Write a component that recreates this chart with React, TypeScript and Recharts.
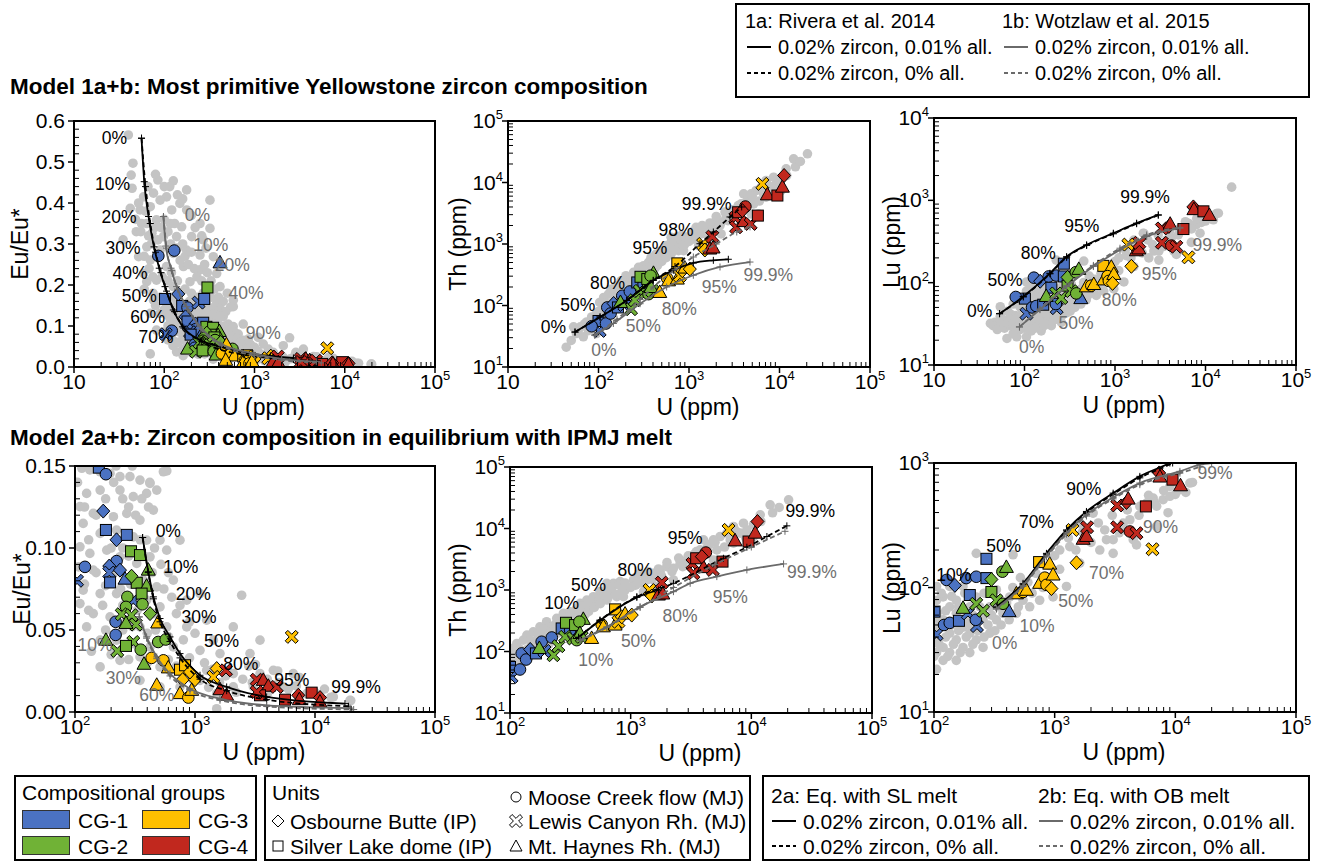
import React from "react";
import { ScatterChart, Scatter, XAxis, YAxis } from "recharts";

type Mk = "d" | "s" | "c" | "x" | "t";
type Pt = [number, number];
type CPt = [number, number, Mk];
type Lab = [number, number, string];

// ---- background (all Yellowstone zircon) : [U ppm, value]
const grayEu: Pt[] = [
  [40, 0.566], [45, 0.497], [43, 0.468], [85, 0.456], [126, 0.454], [44, 0.436], [59, 0.415], [76, 0.424], [106, 0.415], [149, 0.399],
  [42, 0.387], [54, 0.383], [70, 0.391], [90, 0.407], [121, 0.383], [177, 0.383], [64, 0.35], [82, 0.359], [116, 0.35], [156, 0.342],
  [249, 0.35], [321, 0.338], [49, 0.33], [73, 0.326], [98, 0.318], [137, 0.318], [201, 0.318], [271, 0.31], [64, 0.293], [90, 0.285],
  [126, 0.277], [177, 0.285], [249, 0.273], [350, 0.269], [70, 0.261], [106, 0.245], [163, 0.245], [249, 0.237], [381, 0.228], [82, 0.212],
  [126, 0.196], [193, 0.208], [295, 0.196], [415, 0.196], [106, 0.163], [163, 0.147], [249, 0.163], [381, 0.155], [582, 0.147], [35, 0.31],
  [52, 0.269], [64, 0.208], [321, 0.407], [177, 0.432], [70, 0.032], [90, 0.131], [137, 0.037], [76, 0.163], [59, 0.228], [582, 0.163],
  [70, 0.131], [82, 0.09], [3190, 0.029], [4890, 0.025], [7470, 0.021], [13550, 0.009], [19860, 0.007],
  [48, 0.36], [52, 0.4], [56, 0.35], [62, 0.38], [67, 0.32], [72, 0.3], [78, 0.34], [85, 0.31], [92, 0.34], [100, 0.36],
  [110, 0.33], [118, 0.3], [130, 0.35], [140, 0.29], [150, 0.26], [160, 0.3], [170, 0.27], [185, 0.25], [200, 0.28], [215, 0.24],
  [230, 0.22], [260, 0.21], [280, 0.25], [300, 0.23], [330, 0.21], [360, 0.19], [400, 0.17], [450, 0.16], [500, 0.18], [60, 0.27],
  [68, 0.24], [75, 0.22], [95, 0.22], [110, 0.21], [120, 0.23], [140, 0.21], [170, 0.19], [200, 0.18], [230, 0.17], [270, 0.18],
  [330, 0.17], [60, 0.19], [75, 0.18], [90, 0.17], [120, 0.17], [140, 0.16], [190, 0.16], [220, 0.15], [300, 0.15], [420, 0.14],
  [80, 0.15], [100, 0.14], [55, 0.33], [66, 0.44], [80, 0.47], [100, 0.44], [115, 0.44], [140, 0.42], [160, 0.41], [200, 0.37],
  [220, 0.34], [260, 0.32], [290, 0.29],
  [114, 0.1486], [133, 0.1476], [162, 0.1465], [196, 0.1455], [237, 0.1435], [287, 0.1435], [348, 0.1414], [422, 0.1394], [545, 0.1465], [480, 0.1353],
  [395, 0.1333], [306, 0.1313], [237, 0.1353], [162, 0.1353], [125, 0.1333], [110, 0.1252], [142, 0.1211], [209, 0.1191], [270, 0.1211], [348, 0.117],
  [450, 0.1231], [117, 0.115], [162, 0.1089], [222, 0.1109], [306, 0.1068], [395, 0.1048], [511, 0.1048], [110, 0.1007], [133, 0.0967], [184, 0.0987],
  [237, 0.0946], [327, 0.0906], [422, 0.0946], [581, 0.0987], [750, 0.1048], [107, 0.0885], [142, 0.0865], [209, 0.0845], [270, 0.0804], [371, 0.0804],
  [480, 0.0763], [660, 0.0804], [117, 0.0743], [162, 0.0722], [222, 0.0722], [306, 0.0682], [395, 0.0682], [511, 0.0641], [853, 0.0682], [1101, 0.0722],
  [110, 0.0661], [142, 0.06], [196, 0.058], [270, 0.056], [348, 0.0519], [581, 0.0519], [853, 0.0519], [1251, 0.056], [125, 0.0519], [162, 0.0438],
  [222, 0.0438], [306, 0.0417], [422, 0.0397], [660, 0.0397], [1101, 0.0376], [1616, 0.0356], [162, 0.0275], [237, 0.0315], [348, 0.0336], [511, 0.0275],
  [853, 0.0275], [1251, 0.0254], [2085, 0.0234], [3481, 0.0234], [4498, 0.0254], [6590, 0.0234], [348, 0.0193], [511, 0.0153], [750, 0.0153], [1101, 0.0193],
  [1517, 0.0112], [2085, 0.0153], [3063, 0.0153], [5445, 0.0153], [8527, 0.0112], [14220, 0.0092], [19580, 0.0071], [1517, 0.002], [2448, 0.0712], [2085, 0.0519],
  [3481, 0.0438], [2872, 0.0356], [1422, 0.0438],
  [105, 0.14], [120, 0.125], [150, 0.12], [180, 0.13], [210, 0.14], [250, 0.13], [280, 0.125], [320, 0.12], [360, 0.13], [410, 0.125],
  [130, 0.105], [170, 0.11], [200, 0.1], [250, 0.1], [280, 0.095], [350, 0.105], [380, 0.095], [460, 0.1], [520, 0.09], [600, 0.085],
  [120, 0.078], [150, 0.085], [180, 0.077], [240, 0.075], [290, 0.078], [440, 0.085], [550, 0.075], [640, 0.07], [750, 0.065], [130, 0.062],
  [170, 0.065], [250, 0.065], [330, 0.062], [450, 0.06], [700, 0.06], [900, 0.055], [1000, 0.048], [180, 0.05], [250, 0.05], [300, 0.052],
  [400, 0.048], [470, 0.05], [600, 0.046], [800, 0.044], [200, 0.035], [280, 0.032], [400, 0.03], [600, 0.032], [700, 0.028], [900, 0.033],
  [1200, 0.03], [1400, 0.026], [1800, 0.022], [2500, 0.02], [3000, 0.018], [4000, 0.02], [5000, 0.018], [6000, 0.014], [7000, 0.016], [10000, 0.012],
  [12000, 0.014], [2800, 0.028], [1600, 0.018], [950, 0.02], [1300, 0.015], [2200, 0.012], [4000, 0.011],
];

const grayTh: Pt[] = [
  [44, 21], [50, 27], [57, 35], [63, 45], [74, 54], [84, 65], [77, 39], [95, 35], [95, 74], [68, 31], [53, 45],
  [103, 112], [114, 135], [110, 82], [129, 153], [138, 185], [121, 93], [147, 153], [156, 209], [177, 252], [166, 153],
  [201, 305], [215, 252], [189, 197], [244, 345], [277, 417], [260, 324], [315, 444], [357, 503], [381, 607], [433, 687],
  [491, 778], [557, 940], [634, 1064], [720, 1285], [817, 1370], [524, 607], [634, 687], [767, 778], [929, 1133], [1054, 1456],
  [1197, 1870], [1361, 1456], [1545, 1870], [1754, 1990], [1991, 2400], [2263, 2250], [2570, 2720], [2918, 3080], [3318, 3720], [3767, 4490],
  [4276, 4780], [4853, 6530], [5518, 7410], [6266, 8400], [5176, 4490], [5875, 3080], [7112, 5770], [8091, 8400], [9183, 9500], [10420, 11500],
  [11850, 16700], [14320, 24300], [20370, 29300], [871, 778], [1644, 1133], [2263, 1456], [1276, 940], [4853, 3080], [6683, 6530], [4018, 6530],
  [8610, 12200], [10420, 7410], [7112, 10800], [215, 153], [277, 197], [634, 1285],
  [120, 70], [140, 110], [160, 130], [180, 170], [200, 220], [230, 260], [260, 280], [300, 330], [350, 400], [400, 470], [450, 540],
  [600, 800], [700, 900], [900, 1000], [1100, 1200],
  [60, 40], [70, 50], [80, 45], [90, 60], [100, 80], [100, 55], [110, 65], [120, 110], [130, 90], [140, 75], [150, 120], [160, 100],
  [170, 190], [180, 140], [190, 230], [200, 170], [210, 130], [220, 210], [240, 280], [250, 200], [270, 250], [290, 330], [300, 230],
  [320, 380], [330, 290], [350, 300], [370, 480], [380, 360], [400, 550], [420, 400], [450, 450], [480, 650], [500, 520], [550, 700],
  [560, 600], [600, 900], [650, 750], [700, 1100], [750, 850], [800, 1200], [850, 950], [900, 1300], [1000, 1100], [1100, 1600],
  [1200, 1300], [1300, 1700], [1400, 2000], [1500, 1500], [1700, 2200], [1800, 1700], [2000, 2800], [2200, 2000], [2500, 3300],
  [2700, 2400], [3000, 3600], [3500, 4200], [4000, 3600], [4500, 5500], [5000, 6000], [6000, 5000], [7500, 9000], [9000, 7000],
  [12000, 13000], [15000, 18000], [17000, 22000],
];

const grayLu: Pt[] = [
  [42, 32], [47, 33], [54, 39], [58, 29], [64, 21], [69, 42], [75, 24], [82, 22], [89, 27], [89, 51], [54, 51], [106, 62],
  [60, 35], [70, 30], [80, 40], [90, 35], [95, 45], [75, 55], [85, 60], [65, 45],
  [105, 102], [105, 79], [105, 62], [105, 48], [105, 38], [105, 30], [105, 22], [119, 84], [119, 55], [119, 33], [119, 26],
  [135, 102], [135, 70], [135, 43], [135, 30], [153, 79], [153, 62], [153, 38], [153, 26], [174, 102], [174, 48], [174, 33],
  [198, 70], [198, 43], [198, 30], [224, 84], [224, 38], [255, 55], [255, 33], [290, 70], [290, 43], [329, 96], [329, 55],
  [373, 62], [424, 84], [482, 62], [547, 79], [621, 70], [751, 79], [970, 84], [1253, 102], [1615, 157], [224, 188], [452, 183],
  [1102, 200], [1334, 213], [2084, 396], [1615, 329], [2366, 200], [2687, 242], [3053, 188], [3697, 329], [4198, 350], [4477, 242],
  [5080, 448], [5770, 477], [6550, 523], [7925, 507], [9010, 540], [10910, 610], [13190, 690], [6980, 309], [4767, 220], [3053, 242],
  [19450, 1445], [13870, 698], [8700, 399], [2056, 399], [3420, 275], [6740, 481], [12220, 580],
  [45, 30], [50, 27], [55, 34], [60, 28], [65, 32], [70, 36], [75, 32], [80, 28], [85, 38], [90, 31], [95, 36], [100, 28],
  [100, 42], [110, 35], [110, 55], [115, 90], [125, 40], [125, 65], [130, 28], [140, 50], [140, 85], [145, 35], [160, 45],
  [160, 70], [165, 30], [180, 55], [180, 90], [185, 40], [200, 50], [210, 60], [210, 35], [230, 45], [240, 70], [260, 40],
  [260, 90], [280, 50], [300, 60], [320, 45], [340, 70], [360, 50], [400, 75], [420, 55], [450, 100], [500, 70], [520, 120],
  [600, 110], [650, 90], [700, 130], [800, 100], [900, 150], [1000, 180], [1100, 140], [1300, 250], [1500, 200], [1700, 280],
  [2000, 230], [2300, 330], [2600, 290], [3000, 380], [3500, 300], [4000, 420], [5000, 380], [6000, 550], [7000, 450], [8000, 600],
  [9000, 650], [10000, 560],
];

// ---- compositional groups: [U ppm, value, unit marker]
const euCG1: CPt[] = [
  [158, 0.149, "s"], [181, 0.145, "c"], [172, 0.1225, "d"], [181, 0.111, "s"], [222, 0.105, "d"], [270, 0.108, "s"], [121, 0.0885, "c"],
  [222, 0.092, "c"], [193, 0.089, "d"], [193, 0.085, "x"], [237, 0.0865, "d"], [196, 0.079, "s"], [261, 0.081, "t"], [104, 0.08, "x"],
  [306, 0.068, "x"], [218, 0.055, "c"], [218, 0.047, "c"], [86, 0.271, "c"], [129, 0.284, "c"], [415, 0.254, "t"], [102, 0.166, "s"],
  [143, 0.178, "d"], [240, 0.157, "x"], [277, 0.166, "s"],
];
const euCG2: CPt[] = [
  [293, 0.098, "s"], [348, 0.0957, "s"], [408, 0.0865, "t"], [327, 0.0788, "s"], [395, 0.0767, "t"], [296, 0.0828, "d"], [359, 0.0722, "s"],
  [273, 0.0702, "c"], [266, 0.0641, "c"], [365, 0.0657, "c"], [422, 0.06, "d"], [245, 0.0596, "x"], [296, 0.059, "x"], [322, 0.0533, "x"],
  [266, 0.054, "t"], [494, 0.0427, "c"], [570, 0.0442, "c"], [306, 0.0427, "x"], [181, 0.0437, "t"], [225, 0.0372, "x"], [266, 0.0403, "s"],
  [353, 0.038, "c"], [376, 0.0291, "t"], [301, 0.194, "s"],
];
const euCG3: CPt[] = [
  [489, 0.0543, "t"], [435, 0.033, "c"], [545, 0.0315, "c"], [599, 0.0269, "t"], [750, 0.0258, "s"], [826, 0.0285, "s"], [789, 0.0197, "d"],
  [1000, 0.0197, "d"], [908, 0.0244, "d"], [1517, 0.0265, "d"], [1422, 0.0214, "x"], [480, 0.0163, "t"], [750, 0.0112, "t"], [880, 0.0088, "c"],
  [938, 0.0132, "t"], [6400, 0.0458, "x"],
];
const euCG4: CPt[] = [
  [1811, 0.0254, "x"], [1616, 0.0136, "t"], [1836, 0.0102, "t"], [3266, 0.0197, "x"], [3707, 0.0193, "t"], [4083, 0.0157, "t"], [4800, 0.0153, "x"],
  [3481, 0.0102, "s"], [3266, 0.0122, "x"], [5623, 0.0075, "s"], [9380, 0.0118, "s"], [7260, 0.0102, "d"], [7400, 0.0075, "t"], [11010, 0.0088, "d"],
  [11010, 0.0061, "t"],
];

const thCG1: CPt[] = [
  [100, 56, "s"], [103, 38.6, "x"], [121, 51, "c"], [125, 93, "c"], [136, 74, "c"], [147, 108, "d"], [164, 93, "s"], [193, 102, "x"],
  [183, 144, "c"], [222, 169, "c"], [268, 237, "s"], [315, 223, "c"], [84, 46, "c"],
];
const thCG2: CPt[] = [
  [291, 293, "s"], [346, 269, "s"], [405, 333, "t"], [376, 305, "c"], [229, 87, "x"], [252, 122, "x"], [286, 173, "x"], [175, 112, "t"],
  [335, 163, "x"], [357, 153, "c"], [393, 173, "x"], [380, 196, "t"],
];
const thCG3: CPt[] = [
  [743, 484, "s"], [575, 275, "c"], [594, 252, "t"], [743, 269, "t"], [792, 305, "x"], [844, 367, "d"], [899, 406, "t"], [1021, 391, "d"],
  [475, 163, "t"], [1432, 1000, "x"], [1497, 798, "d"], [6470, 9500, "x"],
];
const thCG4: CPt[] = [
  [1698, 828, "t"], [1845, 861, "t"], [1812, 1318, "x"], [3250, 2655, "x"], [3313, 1870, "x"], [3490, 3280, "s"], [4018, 2312, "t"],
  [4200, 4065, "c"], [3890, 3490, "d"], [4800, 2120, "x"], [5770, 2896, "s"], [7340, 6290, "t"], [9480, 6140, "s"], [10760, 8400, "t"],
  [11240, 13000, "d"],
];

const luCG1: CPt[] = [
  [101, 64, "s"], [105, 42, "x"], [121, 50, "c"], [135, 52, "c"], [161, 54, "s"], [191, 62, "x"], [227, 49, "x"], [222, 55, "c"],
  [198, 87, "s"], [127, 115, "c"], [149, 104, "d"], [185, 119, "c"], [224, 122, "c"], [272, 119, "s"], [272, 170, "s"], [419, 64, "t"],
  [80, 67, "c"],
];
const luCG2: CPt[] = [
  [174, 68, "t"], [224, 74, "x"], [255, 65, "x"], [299, 92, "s"], [299, 116, "d"], [369, 134, "c"], [398, 145, "t"], [329, 79, "x"], [373, 74, "c"],
];
const luCG3: CPt[] = [
  [482, 89, "t"], [547, 92, "c"], [583, 95, "t"], [743, 160, "s"], [910, 154, "t"], [751, 108, "t"], [828, 120, "c"], [855, 105, "c"],
  [970, 126, "t"], [940, 98, "d"], [1517, 158, "d"], [1403, 290, "x"], [6470, 203, "x"],
];
const luCG4: CPt[] = [
  [1722, 244, "t"], [1834, 257, "t"], [1857, 305, "x"], [3296, 305, "x"], [4198, 282, "c"], [4767, 273, "x"], [3296, 456, "x"],
  [3937, 482, "d"], [4068, 513, "t"], [5700, 448, "s"], [7345, 832, "d"], [7450, 771, "t"], [9480, 735, "s"], [11040, 656, "t"],
];

// ---- model 1a (Rivera et al. 2014) / 1b (Wotzlaw et al. 2015)
const m1aEu: Pt[] = [[56, 0.558], [60, 0.452], [67, 0.367], [77, 0.293], [88, 0.241], [102, 0.196], [126, 0.139], [160, 0.098], [249, 0.066], [420, 0.05], [751, 0.035], [1500, 0.027], [2700, 0.022]];
const m1aEuDash: Pt[] = [[56, 0.558], [62, 0.44], [70, 0.35], [80, 0.28], [92, 0.23], [106, 0.185], [130, 0.135], [165, 0.095], [260, 0.062], [760, 0.03], [2700, 0.018], [5000, 0.015]];
const m1bEu: Pt[] = [[98, 0.367], [104, 0.295], [119, 0.241], [137, 0.196], [177, 0.147], [249, 0.098], [415, 0.058], [970, 0.033], [2000, 0.02], [4890, 0.013]];
const m1bEuDash: Pt[] = [[98, 0.367], [106, 0.29], [121, 0.235], [140, 0.19], [182, 0.14], [255, 0.092], [430, 0.053], [1000, 0.028], [2000, 0.017], [5500, 0.01]];
const lab1aEu: Lab[] = [[28, 0.558, "0%"], [26.8, 0.446, "10%"], [31.5, 0.367, "20%"], [35, 0.291, "30%"], [41.7, 0.23, "40%"], [53, 0.173, "50%"], [65.5, 0.121, "60%"], [81, 0.072, "70%"]];
const lab1bEu: Lab[] = [[233, 0.371, "0%"], [327, 0.298, "10%"], [568, 0.249, "20%"], [805, 0.181, "40%"], [1254, 0.084, "90%"]];

const m1aTh: Pt[] = [[55, 37], [104, 65], [205, 121], [403, 256], [671, 373], [1117, 491], [1858, 542], [2720, 564]];
const m1aThDash: Pt[] = [[55, 37], [104, 65], [205, 121], [403, 256], [700, 430], [1321, 1011], [1858, 1567], [2838, 2750], [3820, 4000]];
const m1bTh: Pt[] = [[91, 33], [146, 51], [288, 107], [566, 200], [1117, 310], [2200, 423], [4720, 509]];
const m1bThDash: Pt[] = [[91, 33], [160, 60], [288, 125], [403, 200], [700, 380], [1117, 615], [2000, 1000], [3370, 1567], [4720, 1900]];
const lab1aTh: Lab[] = [[31.7, 45, "0%"], [59, 101, "50%"], [126, 232, "80%"], [370, 870, "95%"], [720, 1720, "98%"], [1567, 4420, "99.9%"]];
const lab1bTh: Lab[] = [[115, 18.7, "0%"], [313, 46, "50%"], [781, 89, "80%"], [2163, 200, "95%"], [7530, 310, "99.9%"]];

const m1aLu: Pt[] = [[53, 42], [97, 68], [191, 130], [292, 207], [486, 288], [959, 399], [1733, 528], [3010, 667]];
const m1aLuDash: Pt[] = [[53, 42], [97, 67], [191, 128], [292, 203], [486, 283], [959, 392], [1733, 520], [3010, 660]];
const m1bLu: Pt[] = [[88, 29], [148, 47], [292, 90], [577, 157], [1135, 250], [2238, 364], [5220, 459]];
const m1bLuDash: Pt[] = [[88, 29], [148, 48], [292, 92], [577, 162], [1135, 262], [2238, 380], [5220, 470]];
const lab1aLu: Lab[] = [[32, 45, "0%"], [61, 108, "50%"], [142, 228, "80%"], [429, 490, "95%"], [2149, 1094, "99.9%"]];
const lab1bLu: Lab[] = [[120, 16.7, "0%"], [371, 32, "50%"], [1117, 62, "80%"], [3090, 127, "95%"], [13500, 283, "99.9%"]];

// ---- model 2a (SL melt) / 2b (OB melt)
const m2aEu: Pt[] = [[366, 0.1064], [408, 0.0855], [450, 0.0702], [511, 0.057], [619, 0.0458], [750, 0.0356], [1101, 0.0224], [1836, 0.0153], [3954, 0.0092], [17780, 0.0051]];
const m2aEuDash: Pt[] = [[366, 0.1064], [408, 0.085], [450, 0.069], [511, 0.055], [619, 0.043], [750, 0.033], [1101, 0.02], [1836, 0.013], [3954, 0.0075], [19000, 0.0035]];
const m2bEu: Pt[] = [[343, 0.058], [395, 0.0458], [480, 0.0336], [619, 0.0234], [908, 0.0142], [1616, 0.0081], [3954, 0.0041], [19580, 0.0024]];
const m2bEuDash: Pt[] = [[343, 0.058], [395, 0.045], [480, 0.0325], [619, 0.022], [908, 0.013], [1616, 0.0072], [3954, 0.0034], [21000, 0.0015]];
const lab2aEu: Lab[] = [[599, 0.1105, "0%"], [760, 0.0885, "10%"], [968, 0.0722, "20%"], [1079, 0.058, "30%"], [1667, 0.0431, "50%"], [2404, 0.0295, "80%"], [6400, 0.0197, "95%"], [21980, 0.0153, "99.9%"]];
const lab2bEu: Lab[] = [[147, 0.0407, "10%"], [253, 0.0208, "30%"], [480, 0.0102, "60%"]];

const m2aTh: Pt[] = [[370, 170], [557, 320], [1125, 760], [1700, 1000]];
const m2aThDash: Pt[] = [[370, 170], [557, 324], [1125, 778], [2263, 1285], [5875, 3280], [9183, 4965], [13460, 7410], [19700, 11040]];
const m2bTh: Pt[] = [[381, 153], [634, 252], [1197, 535], [2263, 940], [3112, 1285], [5176, 1650], [9183, 2120], [18500, 2655]];
const m2bThDash: Pt[] = [[381, 150], [634, 245], [1197, 520], [2263, 1100], [5000, 2600], [10000, 5000], [19000, 9000]];
const lab2aTh: Lab[] = [[268, 607, "10%"], [447, 1208, "50%"], [1089, 2118, "80%"], [2830, 6950, "95%"], [30760, 18900, "99.9%"]];
const lab2bTh: Lab[] = [[514, 72, "10%"], [1159, 147, "50%"], [2570, 382, "80%"], [6683, 778, "95%"], [31770, 1991, "99.9%"]];

const m2aLu: Pt[] = [[329, 70], [547, 108], [855, 188], [1253, 290], [1834, 408], [3053, 573], [5080, 781], [9010, 1000], [10500, 1080]];
const m2aLuDash: Pt[] = [[329, 69], [547, 106], [855, 185], [1253, 285], [1834, 400], [3053, 560], [5080, 760], [9500, 1000], [11000, 1080]];
const m2bLu: Pt[] = [[329, 68], [547, 104], [855, 180], [1253, 275], [1834, 385], [3053, 530], [5080, 690], [10910, 857], [16000, 970], [20000, 1000]];
const m2bLuDash: Pt[] = [[329, 67], [547, 102], [855, 176], [1253, 268], [1834, 375], [3053, 515], [5080, 670], [10910, 830], [16000, 930]];
const lab2aLu: Lab[] = [[146, 126, "10%"], [378, 216, "50%"], [706, 333, "70%"], [1742, 618, "90%"]];
const lab2bLu: Lab[] = [[385, 36, "0%"], [714, 49, "10%"], [1496, 78, "50%"], [2687, 131, "70%"], [7540, 309, "90%"], [21300, 830, "99%"]];

// ---- styling
const FONT = "'Liberation Sans', Arial, sans-serif";
const CG_COLORS = ["#4B72C2", "#70B236", "#FFC000", "#C1281E"];
const GRAY_DOT = "#C4C4C4";
const MODEL_GRAY = "#6A6A6A";
const LABEL_GRAY = "#707070";

const toXY = (a: Pt[]) => a.map(([x, y]) => ({ x, y }));
const toMk = (a: CPt[]) => a.map(([x, y, m]) => ({ x, y, m }));
const toLab = (a: Lab[]) => a.map(([x, y, t]) => ({ x, y, t }));

const isPow10 = (v: number) => Math.abs(Math.log10(v) - Math.round(Math.log10(v))) < 1e-6;
function logTicks(lo: number, hi: number) {
  const t: number[] = [];
  for (let e = lo; e < hi; e++) for (let k = 1; k < 10; k++) t.push(k * Math.pow(10, e));
  t.push(Math.pow(10, hi));
  return t;
}
function linTicks(max: number, step: number) {
  const n = Math.round(max / step);
  return Array.from({ length: n + 1 }, (_, i) => +(i * step).toFixed(4));
}

function Marker(props: any) {
  const { cx, cy, payload, color } = props;
  if (cx == null || cy == null) return null;
  const st = { fill: color, stroke: "#000", strokeWidth: 1 };
  const m = payload.m;
  if (m === "s") return <rect x={cx - 5.5} y={cy - 5.5} width={11} height={11} {...st} />;
  if (m === "c") return <circle cx={cx} cy={cy} r={5.8} {...st} />;
  if (m === "d") return <polygon points={`${cx},${cy - 7} ${cx + 6.5},${cy} ${cx},${cy + 7} ${cx - 6.5},${cy}`} {...st} />;
  if (m === "t") return <polygon points={`${cx},${cy - 7.5} ${cx + 7},${cy + 5} ${cx - 7},${cy + 5}`} {...st} />;
  return <polygon points={xShape(cx, cy, 6.5, 2.6)} {...st} />;
}
function xShape(cx: number, cy: number, a: number, k: number) {
  const pts = [[-a, -a + k], [-a + k, -a], [0, -k], [a - k, -a], [a, -a + k], [k, 0], [a, a - k], [a - k, a], [0, k], [-a + k, a], [-a, a - k], [-k, 0]];
  return pts.map(([px, py]) => `${cx + px},${cy + py}`).join(" ");
}

const GrayDot = (p: any) => <circle cx={p.cx} cy={p.cy} r={4.8} fill={GRAY_DOT} />;

function makeXTick(plainTen: boolean) {
  return (props: any) => {
    const { x, y, payload } = props;
    const v = payload.value;
    if (!isPow10(v)) return <line x1={x} x2={x} y1={y} y2={y - 5} stroke="#000" strokeWidth={1} />;
    const e = Math.round(Math.log10(v));
    return (
      <g>
        <line x1={x} x2={x} y1={y} y2={y + 6} stroke="#000" strokeWidth={1.5} />
        <text x={x} y={y + 22} textAnchor="middle" fontSize={21} fontFamily={FONT} fill="#000">
          10{plainTen && e === 1 ? null : <tspan dy={-9} fontSize={13}>{e}</tspan>}
        </text>
      </g>
    );
  };
}
function yLogTick(props: any) {
  const { x, y, payload } = props;
  const v = payload.value;
  if (!isPow10(v)) return <line x1={x} x2={x + 5} y1={y} y2={y} stroke="#000" strokeWidth={1} />;
  const e = Math.round(Math.log10(v));
  return (
    <g>
      <line x1={x - 6} x2={x} y1={y} y2={y} stroke="#000" strokeWidth={1.5} />
      <text x={x - 5} y={y + 7} textAnchor="end" fontSize={21} fontFamily={FONT} fill="#000">
        10<tspan dy={-9} fontSize={13}>{e}</tspan>
      </text>
    </g>
  );
}
function makeYLinTick(step: number, digits: number) {
  return (props: any) => {
    const { x, y, payload } = props;
    const v = payload.value;
    const major = Math.abs(v / step - Math.round(v / step)) < 1e-6;
    if (!major) return <line x1={x} x2={x + 5} y1={y} y2={y} stroke="#000" strokeWidth={1} />;
    return (
      <g>
        <line x1={x - 6} x2={x} y1={y} y2={y} stroke="#000" strokeWidth={1.5} />
        <text x={x - 9} y={y + 7} textAnchor="end" fontSize={21} fontFamily={FONT} fill="#000">
          {v.toFixed(digits)}
        </text>
      </g>
    );
  };
}

type LineSpec = { data: Pt[]; color: string; dash?: boolean };
type LabSpec = { data: Lab[]; color: string };
type PanelSpec = {
  left: number; top: number; w: number; h: number;
  xDomain: [number, number]; xTicks: number[];
  yDomain: [number, number]; yTicks: number[]; yLog: boolean; yStep?: number; yDigits?: number;
  yTitle: string; yTitleDx: number;
  gray: Pt[]; groups: CPt[][]; lines: LineSpec[]; labels: LabSpec[];
};

function Panel({ p }: { p: PanelSpec }) {
  const YW = 70, MT = 20, MR = 30, XH = 50;
  const W = YW + p.w + MR;
  const H = MT + p.h + XH;
  return (
    <>
      <div style={{ position: "absolute", left: p.left - YW, top: p.top - MT }}>
        <ScatterChart width={W} height={H} margin={{ top: MT, right: MR, bottom: 0, left: 0 }}>
          <XAxis type="number" dataKey="x" scale="log" domain={p.xDomain} allowDataOverflow ticks={p.xTicks} interval={0}
            tick={makeXTick(p.xDomain[0] === 10)} tickLine={false} axisLine={false} tickSize={0} tickMargin={0} height={XH} />
          <YAxis type="number" dataKey="y" scale={p.yLog ? "log" : "linear"} domain={p.yDomain} allowDataOverflow ticks={p.yTicks} interval={0}
            tick={p.yLog ? yLogTick : makeYLinTick(p.yStep as number, p.yDigits as number)} tickLine={false} axisLine={false} tickSize={0} tickMargin={0} width={YW} />
          <Scatter data={toXY(p.gray)} shape={GrayDot} isAnimationActive={false} />
          {p.groups.map((g, i) => (
            <Scatter key={"g" + i} data={toMk(g)} shape={(s: any) => <Marker {...s} color={CG_COLORS[i]} />} isAnimationActive={false} />
          ))}
          {p.lines.map((l, i) => (
            <Scatter key={"l" + i} data={toXY(l.data)} line={{ stroke: l.color, strokeWidth: 1.8, strokeDasharray: l.dash ? "5 3" : undefined }}
              lineJointType="monotoneX"
              shape={(s: any) => <path d={`M${s.cx - 3.5},${s.cy}h7M${s.cx},${s.cy - 3.5}v7`} stroke={l.color} strokeWidth={1} />}
              isAnimationActive={false} />
          ))}
          {p.labels.map((l, i) => (
            <Scatter key={"t" + i} data={toLab(l.data)}
              shape={(s: any) => (
                <text x={s.cx} y={s.cy} textAnchor="middle" dominantBaseline="central" fontSize={17.5} fontFamily={FONT} fill={l.color}>{s.payload.t}</text>
              )}
              isAnimationActive={false} />
          ))}
        </ScatterChart>
      </div>
      <div style={{ position: "absolute", left: p.left - 1, top: p.top - 1, width: p.w + 2, height: p.h + 2, border: "2px solid #000", boxSizing: "border-box", pointerEvents: "none" }} />
      <div style={{ position: "absolute", left: p.left - p.yTitleDx, top: p.top + p.h / 2, transform: "translate(-50%,-50%) rotate(-90deg)", fontSize: 23, fontFamily: FONT, whiteSpace: "nowrap", lineHeight: 1 }}>{p.yTitle}</div>
      <div style={{ position: "absolute", left: p.left + p.w / 2 + 9, top: p.top + p.h + 40, transform: "translate(-50%,-50%)", fontSize: 23, fontFamily: FONT, whiteSpace: "nowrap", lineHeight: 1 }}>U (ppm)</div>
    </>
  );
}

const xTop = logTicks(1, 5);
const xBot = logTicks(2, 5);

const panels: PanelSpec[] = [
  {
    left: 74, top: 121, w: 361, h: 246, xDomain: [10, 1e5], xTicks: xTop, yDomain: [0, 0.6], yTicks: linTicks(0.6, 0.02), yLog: false, yStep: 0.1, yDigits: 1,
    yTitle: "Eu/Eu*", yTitleDx: 54, gray: grayEu, groups: [euCG1, euCG2, euCG3, euCG4],
    lines: [{ data: m1aEu, color: "#000" }, { data: m1aEuDash, color: "#000", dash: true }, { data: m1bEu, color: MODEL_GRAY }, { data: m1bEuDash, color: MODEL_GRAY, dash: true }],
    labels: [{ data: lab1aEu, color: "#000" }, { data: lab1bEu, color: LABEL_GRAY }],
  },
  {
    left: 508, top: 121, w: 362, h: 246, xDomain: [10, 1e5], xTicks: xTop, yDomain: [10, 1e5], yTicks: logTicks(1, 5), yLog: true,
    yTitle: "Th (ppm)", yTitleDx: 50, gray: grayTh, groups: [thCG1, thCG2, thCG3, thCG4],
    lines: [{ data: m1aTh, color: "#000" }, { data: m1aThDash, color: "#000", dash: true }, { data: m1bTh, color: MODEL_GRAY }, { data: m1bThDash, color: MODEL_GRAY, dash: true }],
    labels: [{ data: lab1aTh, color: "#000" }, { data: lab1bTh, color: LABEL_GRAY }],
  },
  {
    left: 934, top: 118, w: 362, h: 247, xDomain: [10, 1e5], xTicks: xTop, yDomain: [10, 1e4], yTicks: logTicks(1, 4), yLog: true,
    yTitle: "Lu (ppm)", yTitleDx: 42, gray: grayLu, groups: [luCG1, luCG2, luCG3, luCG4],
    lines: [{ data: m1aLu, color: "#000" }, { data: m1aLuDash, color: "#000", dash: true }, { data: m1bLu, color: MODEL_GRAY }, { data: m1bLuDash, color: MODEL_GRAY, dash: true }],
    labels: [{ data: lab1aLu, color: "#000" }, { data: lab1bLu, color: LABEL_GRAY }],
  },
  {
    left: 75, top: 466, w: 360, h: 246, xDomain: [100, 1e5], xTicks: xBot, yDomain: [0, 0.15], yTicks: linTicks(0.15, 0.01), yLog: false, yStep: 0.05, yDigits: 2,
    yTitle: "Eu/Eu*", yTitleDx: 53, gray: grayEu, groups: [euCG1, euCG2, euCG3, euCG4],
    lines: [{ data: m2aEu, color: "#000" }, { data: m2aEuDash, color: "#000", dash: true }, { data: m2bEu, color: MODEL_GRAY }, { data: m2bEuDash, color: MODEL_GRAY, dash: true }],
    labels: [{ data: lab2aEu, color: "#000" }, { data: lab2bEu, color: LABEL_GRAY }],
  },
  {
    left: 510, top: 467, w: 362, h: 246, xDomain: [100, 1e5], xTicks: xBot, yDomain: [10, 1e5], yTicks: logTicks(1, 5), yLog: true,
    yTitle: "Th (ppm)", yTitleDx: 52, gray: grayTh, groups: [thCG1, thCG2, thCG3, thCG4],
    lines: [{ data: m2aTh, color: "#000" }, { data: m2aThDash, color: "#000", dash: true }, { data: m2bTh, color: MODEL_GRAY }, { data: m2bThDash, color: MODEL_GRAY, dash: true }],
    labels: [{ data: lab2aTh, color: "#000" }, { data: lab2bTh, color: LABEL_GRAY }],
  },
  {
    left: 934, top: 463, w: 362, h: 249, xDomain: [100, 1e5], xTicks: xBot, yDomain: [10, 1e3], yTicks: logTicks(1, 3), yLog: true,
    yTitle: "Lu (ppm)", yTitleDx: 42, gray: grayLu, groups: [luCG1, luCG2, luCG3, luCG4],
    lines: [{ data: m2aLu, color: "#000" }, { data: m2aLuDash, color: "#000", dash: true }, { data: m2bLu, color: MODEL_GRAY }, { data: m2bLuDash, color: MODEL_GRAY, dash: true }],
    labels: [{ data: lab2aLu, color: "#000" }, { data: lab2bLu, color: LABEL_GRAY }],
  },
];

// ---- legend bits
function T({ x, y, size = 21, bold, children }: any) {
  return (
    <div style={{ position: "absolute", left: x, top: y, transform: "translateY(-50%)", fontSize: size, fontWeight: bold ? 700 : 400, fontFamily: FONT, whiteSpace: "nowrap", lineHeight: 1 }}>
      {children}
    </div>
  );
}
function LineSample({ x, y, color, dash }: any) {
  return (
    <svg style={{ position: "absolute", left: x, top: y - 6 }} width={24} height={12}>
      <line x1={0} x2={24} y1={6} y2={6} stroke={color} strokeWidth={2} strokeDasharray={dash ? "4 3" : undefined} />
    </svg>
  );
}
function UnitSym({ x, y, m }: { x: number; y: number; m: Mk }) {
  const st = { fill: "none", stroke: "#000", strokeWidth: 1 };
  return (
    <svg style={{ position: "absolute", left: x, top: y - 8 }} width={16} height={16}>
      {m === "s" && <rect x={3} y={3} width={10} height={10} {...st} />}
      {m === "c" && <circle cx={8} cy={8} r={5} {...st} />}
      {m === "d" && <polygon points="8,2 14,8 8,14 2,8" {...st} />}
      {m === "t" && <polygon points="8,2 14,13 2,13" {...st} />}
      {m === "x" && <polygon points={xShape(8, 8, 6.5, 2.6)} {...st} />}
    </svg>
  );
}
const boxStyle = (l: number, t: number, w: number, h: number): React.CSSProperties => ({
  position: "absolute", left: l, top: t, width: w, height: h, border: "2px solid #000", boxSizing: "border-box",
});
const Swatch = ({ x, y, c }: { x: number; y: number; c: string }) => (
  <div style={{ position: "absolute", left: x, top: y, width: 48, height: 19, background: c, border: "1px solid #333", boxSizing: "border-box" }} />
);

export default function App() {
  return (
    <div style={{ position: "absolute", left: 0, top: 0, width: 1320, height: 861, background: "#fff", overflow: "hidden", fontFamily: FONT }}>
      <T x={10} y={87} size={22.5} bold>Model 1a+b: Most primitive Yellowstone zircon composition</T>
      <T x={10} y={438} size={22.5} bold>Model 2a+b: Zircon composition in equilibrium with IPMJ melt</T>

      {panels.map((p, i) => <Panel key={i} p={p} />)}

      {/* model 1 legend */}
      <div style={boxStyle(735, 3, 575, 95)} />
      <T x={745} y={21} size={20}>1a: Rivera et al. 2014</T>
      <T x={1002} y={21} size={20}>1b: Wotzlaw et al. 2015</T>
      <LineSample x={747} y={47} color="#000" />
      <T x={778} y={47} size={20}>0.02% zircon, 0.01% all.</T>
      <LineSample x={747} y={73} color="#000" dash />
      <T x={778} y={73} size={20}>0.02% zircon, 0% all.</T>
      <LineSample x={1004} y={47} color={MODEL_GRAY} />
      <T x={1035} y={47} size={20}>0.02% zircon, 0.01% all.</T>
      <LineSample x={1004} y={73} color={MODEL_GRAY} dash />
      <T x={1035} y={73} size={20}>0.02% zircon, 0% all.</T>

      {/* compositional groups */}
      <div style={boxStyle(14, 775, 243, 86)} />
      <T x={22} y={792}>Compositional groups</T>
      <Swatch x={22} y={810} c={CG_COLORS[0]} />
      <T x={78} y={820}>CG-1</T>
      <Swatch x={142} y={810} c={CG_COLORS[2]} />
      <T x={198} y={820}>CG-3</T>
      <Swatch x={22} y={836} c={CG_COLORS[1]} />
      <T x={78} y={846}>CG-2</T>
      <Swatch x={142} y={836} c={CG_COLORS[3]} />
      <T x={198} y={846}>CG-4</T>

      {/* units */}
      <div style={boxStyle(264, 775, 487, 86)} />
      <T x={272} y={792}>Units</T>
      <UnitSym x={270} y={821} m="d" />
      <T x={290} y={821}>Osbourne Butte (IP)</T>
      <UnitSym x={270} y={846} m="s" />
      <T x={290} y={846}>Silver Lake dome (IP)</T>
      <UnitSym x={508} y={797} m="c" />
      <T x={528} y={797}>Moose Creek flow (MJ)</T>
      <UnitSym x={508} y={821} m="x" />
      <T x={528} y={821}>Lewis Canyon Rh. (MJ)</T>
      <UnitSym x={508} y={846} m="t" />
      <T x={528} y={846}>Mt. Haynes Rh. (MJ)</T>

      {/* model 2 legend */}
      <div style={boxStyle(762, 775, 548, 86)} />
      <T x={771} y={795}>2a: Eq. with SL melt</T>
      <T x={1038} y={795}>2b: Eq. with OB melt</T>
      <LineSample x={772} y={821} color="#000" />
      <T x={803} y={821}>0.02% zircon, 0.01% all.</T>
      <LineSample x={772} y={846} color="#000" dash />
      <T x={803} y={846}>0.02% zircon, 0% all.</T>
      <LineSample x={1039} y={821} color={MODEL_GRAY} />
      <T x={1070} y={821}>0.02% zircon, 0.01% all.</T>
      <LineSample x={1039} y={846} color={MODEL_GRAY} dash />
      <T x={1070} y={846}>0.02% zircon, 0% all.</T>
    </div>
  );
}
